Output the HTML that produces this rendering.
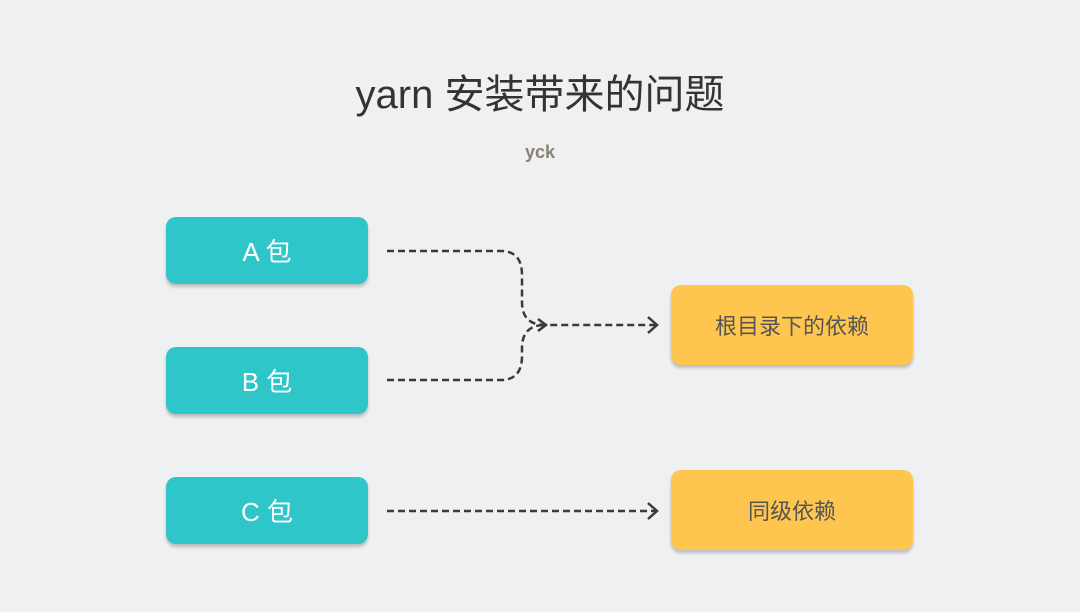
<!DOCTYPE html>
<html><head><meta charset="utf-8"><style>
body{margin:0;width:1080px;height:612px;background:#eff0f2;position:relative;overflow:hidden;font-family:"Liberation Sans","Noto Sans CJK SC",sans-serif}
.t{position:absolute;left:0;width:1080px;text-align:center}
.b{position:absolute;border-radius:10px;display:flex;align-items:center;justify-content:center;box-shadow:0 3px 3px rgba(0,0,0,0.22)}
.teal{background:#2ec6c9;color:#fff;font-size:26px;left:166px;width:202px;height:67px}
.org{background:#ffc64f;color:#555;font-size:22px;left:671px;width:242px;height:80px}
</style></head><body>
<div class="t" style="top:62px;font-size:40px;color:#333">yarn 安装带来的问题</div>
<div class="t" style="top:142px;font-size:18px;color:#8a8172;font-weight:bold">yck</div>
<div class="b teal" style="top:217px">A 包</div>
<div class="b teal" style="top:347px">B 包</div>
<div class="b teal" style="top:477px">C 包</div>
<div class="b org" style="top:285px">根目录下的依赖</div>
<div class="b org" style="top:470px">同级依赖</div>
<svg width="1080" height="612" style="position:absolute;left:0;top:0" fill="none" stroke="#3a3a3a" stroke-width="2.5">
<path d="M387 251 H501 Q522 251 522 275 V302 Q522 325 545 325 H655" stroke-dasharray="7 4"/>
<path d="M387 380 H501 Q522 380 522 356 V348 Q522 325 545 325" stroke-dasharray="7 4"/>
<path d="M387 511 H655" stroke-dasharray="7 4"/>
<path d="M648 317 L657 325 L648 333 M648 503 L657 511 L648 519 M538 319 L546 325 L538 331" stroke-dasharray="none"/>
</svg>
</body></html>
